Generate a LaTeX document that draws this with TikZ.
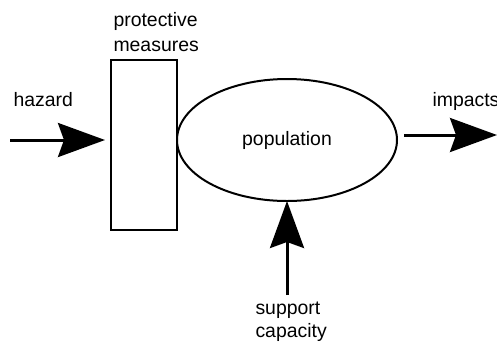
\documentclass[tikz,border=0pt]{standalone}
\usepackage{fontspec}
\setmainfont{Liberation Sans}
\usepackage{tikz}
\usetikzlibrary{arrows.meta,positioning,shapes.geometric}

\begin{document}
\begin{tikzpicture}[x=1bp,y=-1bp,line width=3bp,
		-{Stealth[length=47bp,width=34bp,inset=6bp]}]
		
		% Styles for the blocks
		\tikzstyle{barrier}=[draw,-,line width=2bp,rectangle,minimum width=66bp,minimum height=170bp,outer sep=0pt]
		\tikzstyle{group}=[draw,-,line width=2bp,ellipse,minimum width=220bp,minimum height=122bp,outer sep=0pt,inner sep=0pt]
		\tikzstyle{lbl}=[inner sep=0pt,anchor=base west,align=left,font=\fontsize{19.5}{24.5}\selectfont]
		
		\useasboundingbox (0,0) rectangle (497,342);
		
		% Nodes
		\node[barrier] (pm) at (144,145) {};
		\node[group] (pop) at (287,140) {};
		\node[font=\fontsize{19.5}{24.5}\selectfont,inner sep=0pt] (popl) at (pop.center) {population};
		
		% Labels (base = last line)
		\node[lbl] (hazl) at (12,106) {hazard};
		\node[lbl] (pml) at (112,51) {protective\\measures};
		\node[lbl] (impl) at (431,106) {impacts};
		\node[lbl,font=\fontsize{19.5}{23}\selectfont] (supl) at (254,337) {support\\capacity};
		
		% Free ends of the arrows
		\coordinate (hazin) at (10,140);
		\coordinate (impout) at (497,135);
		\coordinate (supin) at (287,295);
		
		% Arrows
		\draw[shorten >=6bp] (hazin) -- (hazin -| pm.west);
		\draw[shorten <=7bp] (pop.east |- impout) -- (impout);
		\draw (supin) -- (pop.south);
		
	\end{tikzpicture}
\end{document}
